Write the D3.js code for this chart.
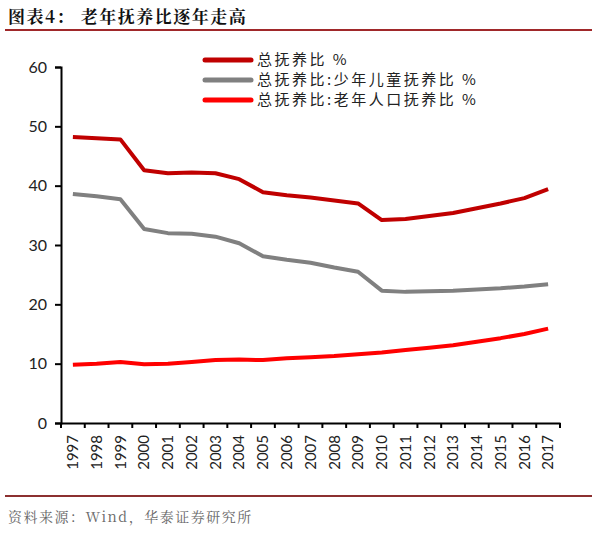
<!DOCTYPE html>
<html><head><meta charset="utf-8">
<script src="https://cdn.jsdelivr.net/npm/d3@7"></script>
<style>body{margin:0;background:#fff;}svg{display:block;}</style>
</head><body>
<script>
const years = ["1997","1998","1999","2000","2001","2002","2003","2004","2005","2006","2007","2008","2009","2010","2011","2012","2013","2014","2015","2016","2017"];
const totalRatio = [48.2,48.0,47.8,42.6,42.1,42.2,42.1,41.1,38.9,38.4,38.0,37.5,37.0,34.2,34.4,34.9,35.4,36.2,37.0,37.9,39.4];
const childRatio = [38.6,38.2,37.7,32.7,32.0,31.9,31.4,30.3,28.1,27.5,27.0,26.2,25.5,22.3,22.1,22.2,22.3,22.5,22.7,23.0,23.4];
const elderRatio = [9.8,10.0,10.3,9.9,10.0,10.3,10.6,10.7,10.6,10.9,11.1,11.3,11.6,11.9,12.3,12.7,13.1,13.7,14.3,15.0,15.9];
const yTicks = [0,10,20,30,40,50,60];
const seriesNames = ["总抚养比 %","总抚养比:少年儿童抚养比 %","总抚养比:老年人口抚养比 %"];
const seriesColors = ["#c00000","#808080","#ff0000"];
const titleText = "图表4：  老年抚养比逐年走高";
const sourceText = "资料来源：Wind，华泰证券研究所";

(function(){
const W=606,H=533;
const svg=d3.select("body").append("svg").attr("width",W).attr("height",H);
const mLeft=61,mRight=560,mTop=67,mBottom=423;
const x=d3.scaleBand().domain(years).range([mLeft,mRight]);
const y=d3.scaleLinear().domain([0,60]).range([mBottom,mTop]);

svg.append("text").attr("x",8).attr("y",23).text(titleText)
  .attr("font-family","'Noto Serif CJK SC','Noto Sans CJK SC',serif").attr("font-weight","bold")
  .attr("font-size",17).attr("letter-spacing",1.5).attr("fill","#111");
svg.append("line").attr("x1",5).attr("x2",592).attr("y1",30).attr("y2",30).attr("stroke","#a0282a").attr("stroke-width",2);
svg.append("line").attr("x1",5).attr("x2",592).attr("y1",496).attr("y2",496).attr("stroke","#8c3030").attr("stroke-width",2);
svg.append("text").attr("x",8).attr("y",522).text(sourceText)
  .attr("font-family","'Noto Serif CJK SC','Noto Sans CJK SC',serif")
  .attr("font-size",14).attr("letter-spacing",1.5).attr("fill","#666");

const yAxis=svg.append("g").attr("transform",`translate(${mLeft},0)`)
  .call(d3.axisLeft(y).tickValues(yTicks).tickSize(6).tickPadding(8));
yAxis.select(".domain").attr("stroke","#000").attr("stroke-width",2);
yAxis.selectAll(".tick line").attr("stroke","#000").attr("stroke-width",2);
yAxis.selectAll("text").attr("font-family","Lato,'Open Sans',sans-serif").attr("font-size",16).attr("fill","#222");

const xAxis=svg.append("g").attr("transform",`translate(0,${mBottom})`)
  .call(d3.axisBottom(x).tickSizeOuter(0).tickSize(0));
xAxis.select(".domain").attr("stroke","#000").attr("stroke-width",2);
xAxis.selectAll(".tick line").remove();
xAxis.selectAll("text").attr("font-family","Lato,'Open Sans',sans-serif").attr("font-size",15).attr("fill","#222")
  .attr("transform","rotate(-90)").attr("text-anchor","end").attr("dy","0.35em").attr("x",-12).attr("y",0);
const edges=years.map(d=>x(d)).concat([x(years[years.length-1])+x.bandwidth()]);
svg.append("g").selectAll("line").data(edges).join("line")
  .attr("x1",d=>d).attr("x2",d=>d).attr("y1",mBottom).attr("y2",mBottom+5).attr("stroke","#000").attr("stroke-width",2);

const allSeries=[totalRatio,childRatio,elderRatio];
const lineGen=d3.line().x((d,i)=>x(years[i])+x.bandwidth()/2).y(d=>y(d));
[1,2,0].forEach(k=>{
  svg.append("path").datum(allSeries[k]).attr("d",lineGen).attr("fill","none")
    .attr("stroke",seriesColors[k]).attr("stroke-width",4).attr("stroke-linejoin","round");
});

const ly=[60,80,100];
seriesNames.forEach((n,i)=>{
  svg.append("line").attr("x1",205).attr("x2",251).attr("y1",ly[i]).attr("y2",ly[i])
    .attr("stroke",seriesColors[i]).attr("stroke-width",5).attr("stroke-linecap","round");
  svg.append("text").attr("x",257).attr("y",ly[i]+5).text(n).style("white-space","pre")
    .attr("font-family","'Noto Sans CJK SC',sans-serif").attr("font-size",15).attr("letter-spacing",2.5).attr("fill","#222");
});
})();
</script>
</body></html>
